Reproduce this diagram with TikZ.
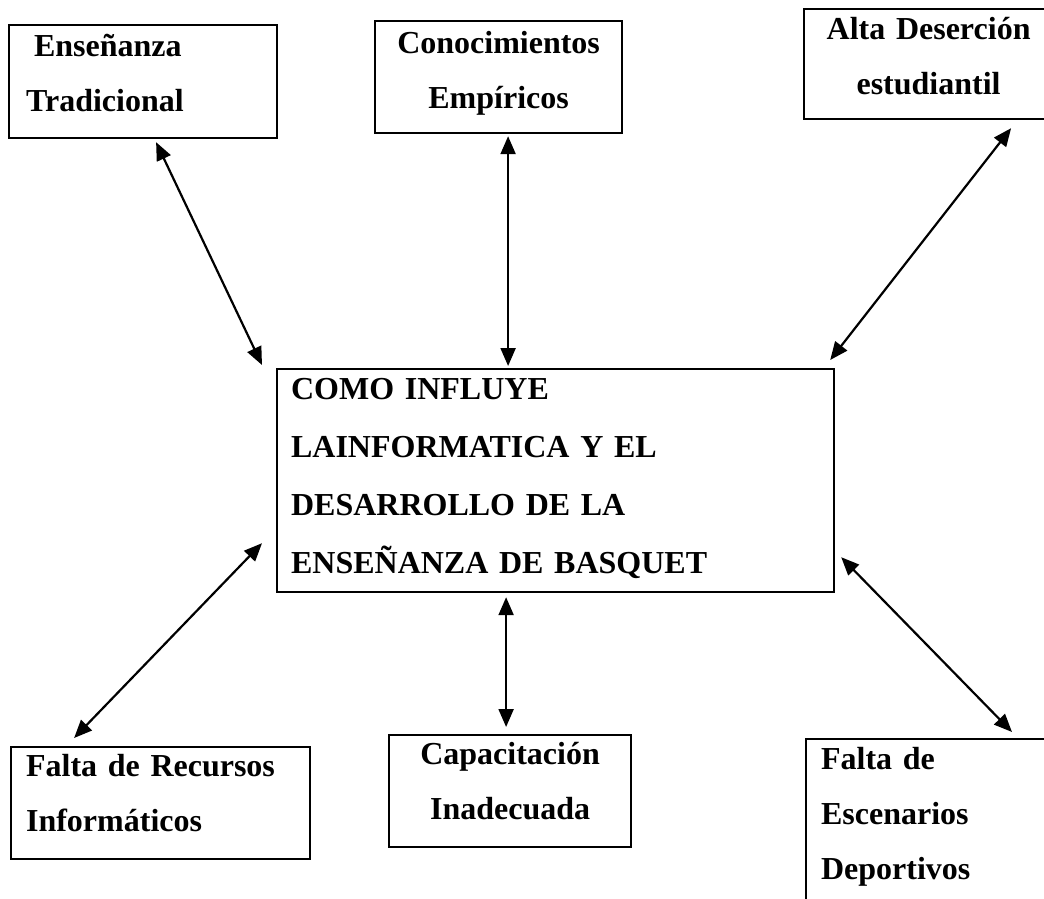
\documentclass[tikz,border=0pt]{standalone}
\usepackage{fontspec}
\setmainfont{Liberation Serif}
\usetikzlibrary{arrows.meta, positioning, calc}

\tikzset{
  box/.style={rectangle, draw, line width=1.1pt, inner sep=0pt, anchor=north west,
    font=\bfseries\fontsize{16}{27.5}\selectfont},
  link/.style={<->, line width=1.1pt}
}

\begin{document}
\begin{tikzpicture}[x=0.5pt, y=-0.5pt, >={Triangle[length=9pt,width=7.5pt]}]
        \useasboundingbox (0,0) rectangle (1044,899);
        \clip (0,0) rectangle (1044,899);

        % top row
        \node[box, inner xsep=8.5pt, text width=117pt, align=left, text height=15.5pt, text depth=41pt] (trad) at (8,24) {\hspace*{4pt}Enseñanza\\Tradicional};
        \node[box, text width=123.5pt, align=center, text height=16pt, text depth=40pt] (con) at (374,20) {Conocimientos\\Empíricos};
        \node[box, text width=124.5pt, align=center, text height=15pt, text depth=40pt] (alta) at (803,8) {Alta Deserción\\estudiantil};

        % central problem
        \node[box, font=\bfseries\fontsize{16}{29}\selectfont, inner xsep=7pt, text width=264.5pt, align=left, text height=15pt, text depth=96.5pt] (main) at (276,368) {COMO INFLUYE\\LAINFORMATICA Y EL\\DESARROLLO DE LA\\ENSEÑANZA DE BASQUET};

        % bottom row
        \node[box, inner xsep=7.5pt, text width=134.5pt, align=left, text height=14.5pt, text depth=41.5pt] (rec) at (10,746) {Falta de Recursos\\Informáticos};
        \node[box, text width=121pt, align=center, text height=14.5pt, text depth=41.5pt] (cap) at (388,734) {Capacitación\\Inadecuada};
        \node[box, inner xsep=7.5pt, text width=112.5pt, align=left, text height=15pt, text depth=100pt] (esc) at (805,738) {Falta de\\Escenarios\\Deportivos};

        % arrows
        \draw[link] ($(trad.south)+(13,3)$) -- ($(main.north west)+(-14,-3)$);
        \draw[link] ($(con.south)+(9.5,2)$) -- ($(con.south |- main.north)+(9.5,-2)$);
        \draw[link] ($(alta.south)+(82.5,8)$) -- ($(main.north east)+(-5,-8)$);
        \draw[link] ($(rec.north)+(-86.5,-8)$) -- ($(main.south west)+(-14,-50)$);
        \draw[link] ($(cap.north)+(-4,-7)$) -- ($(cap.north |- main.south)+(-4,4)$);
        \draw[link] ($(esc.north west)+(207,-6)$) -- ($(main.south east)+(6,-36)$);
\end{tikzpicture}
\end{document}
